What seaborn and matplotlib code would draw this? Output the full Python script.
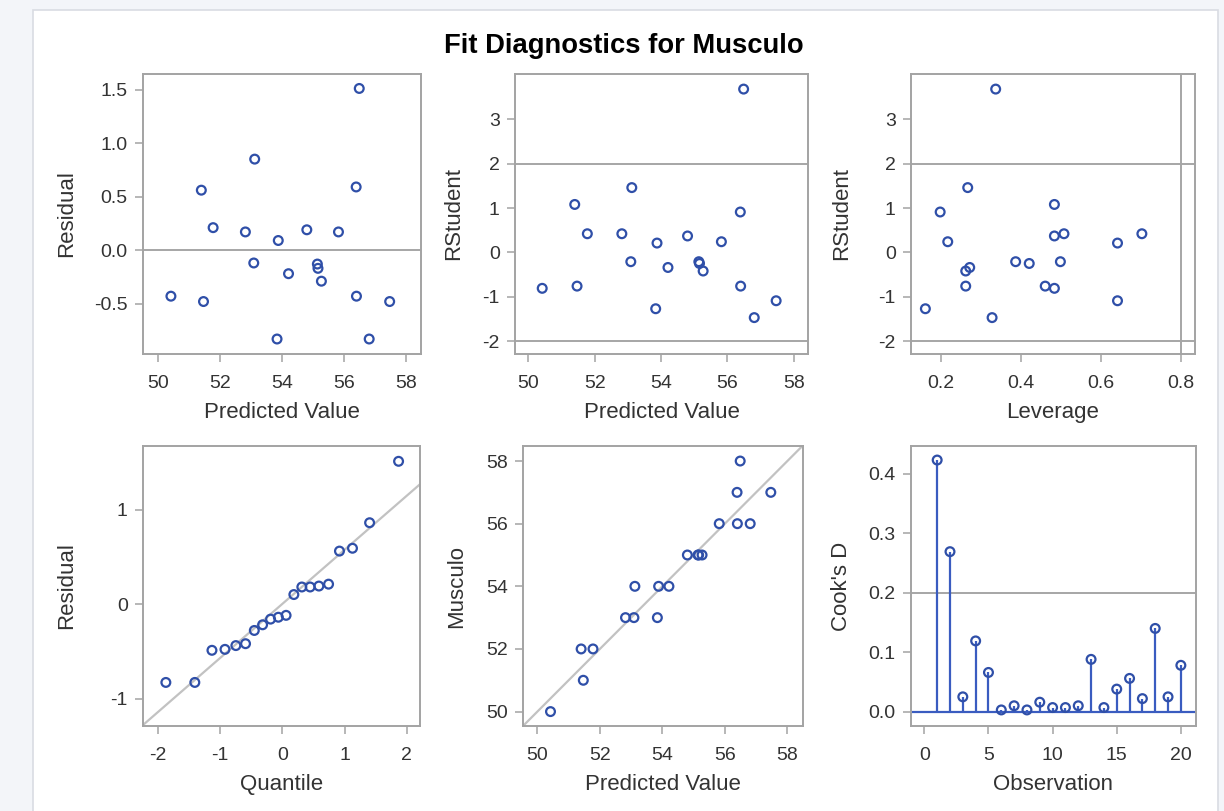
import numpy as np
import pandas as pd
import matplotlib
matplotlib.use("Agg")
import matplotlib.pyplot as plt
from matplotlib.patches import Rectangle
import seaborn as sns

# ---------------- data ----------------
predicted = [50.42, 51.47, 51.40, 51.78, 52.82, 53.12, 53.09, 53.88, 53.84, 54.21,
             54.80, 55.14, 55.16, 55.27, 55.82, 56.39, 56.49, 56.40, 56.81, 57.47]
residual = [-0.43, -0.48, 0.56, 0.21, 0.17, 0.85, -0.12, 0.09, -0.83, -0.22,
            0.19, -0.13, -0.17, -0.29, 0.17, 0.59, 1.51, -0.43, -0.83, -0.48]
musculo = [50, 51, 52, 52, 53, 54, 53, 54, 53, 54,
           55, 55, 55, 55, 56, 57, 58, 56, 56, 57]
rstudent = [-0.81, -0.76, 1.08, 0.42, 0.42, 1.46, -0.21, 0.21, -1.27, -0.34,
            0.37, -0.21, -0.25, -0.42, 0.24, 0.91, 3.68, -0.76, -1.47, -1.09]
leverage = [0.484, 0.262, 0.484, 0.508, 0.703, 0.267, 0.387, 0.642, 0.161, 0.272,
            0.484, 0.499, 0.421, 0.262, 0.217, 0.198, 0.337, 0.461, 0.328, 0.642]

qq_quantile = [-1.868, -1.403, -1.128, -0.919, -0.744, -0.589, -0.448, -0.315, -0.187, -0.062,
               0.062, 0.187, 0.315, 0.448, 0.589, 0.744, 0.919, 1.128, 1.403, 1.868]
qq_residual = [-0.83, -0.83, -0.49, -0.48, -0.44, -0.42, -0.28, -0.22, -0.16, -0.14,
               -0.12, 0.10, 0.18, 0.18, 0.19, 0.21, 0.56, 0.59, 0.86, 1.51]
qq_sigma = 0.573

observation = list(range(1, 21))
cooks_d = [0.423, 0.269, 0.025, 0.119, 0.066, 0.003, 0.010, 0.003, 0.016, 0.007,
           0.007, 0.010, 0.088, 0.007, 0.038, 0.056, 0.022, 0.140, 0.025, 0.078]

rstudent_limit = 2
leverage_limit = 0.8
cooks_limit = 0.2

# ---------------- style ----------------
sns.set_theme(style="white")
plt.rcParams['font.family'] = ['Liberation Sans', 'DejaVu Sans']
plt.rcParams['axes.unicode_minus'] = False

W, H = 1224, 811
BLUE = "#2f4fa8"
STEM = "#3a5cc0"
FRAME = "#a3a3a3"
REF = "#a6a6a6"
DIAG = "#c2c2c2"
TXT = "#333333"

fig = plt.figure(figsize=(W / 100, H / 100), dpi=100)
fig.patch.set_facecolor("#f3f5f9")
fig.patches.append(Rectangle((33 / W, -0.05), (1218 - 33) / W, 1.05 - 10 / H,
                             transform=fig.transFigure, facecolor="white",
                             edgecolor="#d9dce3", linewidth=1.2, zorder=-10))

fig.text(624 / W, 1 - 46 / H, "Fit Diagnostics for Musculo", ha="center", va="center",
         fontsize=19.7, fontweight="bold", color="black")


def make_ax(x0, x1, y0, y1):
    ax = fig.add_axes([x0 / W, 1 - y1 / H, (x1 - x0) / W, (y1 - y0) / H])
    ax.set_facecolor("white")
    for s in ax.spines.values():
        s.set_color(FRAME)
        s.set_linewidth(1.4)
    ax.tick_params(axis="both", which="both", direction="out", length=6, width=1.1,
                   color=FRAME, labelsize=14, labelcolor=TXT,
                   bottom=True, left=True)
    ax.tick_params(axis="x", pad=9)
    ax.tick_params(axis="y", pad=5)
    return ax


def label(ax, xl, yl, ylab_px, x0, x1):
    ax.set_xlabel(xl, fontsize=16, color=TXT, labelpad=7.5)
    ax.set_ylabel(yl, fontsize=16, color=TXT)
    ax.yaxis.set_label_coords((ylab_px - x0) / (x1 - x0), 0.5)


def points(ax, x, y):
    sns.scatterplot(x=x, y=y, ax=ax, marker="o", s=40, facecolor="none",
                    edgecolor=BLUE, linewidth=1.6, zorder=3, legend=False)


# Panel 1: Residual vs Predicted
ax1 = make_ax(143, 421, 74, 354)
ax1.axhline(0, color=REF, lw=1.4, zorder=1)
points(ax1, predicted, residual)
ax1.set_xlim(49.52, 58.48)
ax1.set_ylim(-0.97, 1.645)
ax1.set_xticks([50, 52, 54, 56, 58])
ax1.set_yticks([-0.5, 0.0, 0.5, 1.0, 1.5])
ax1.set_yticklabels(["-0.5", "0.0", "0.5", "1.0", "1.5"])
label(ax1, "Predicted Value", "Residual", 77, 143, 421)

# Panel 2: RStudent vs Predicted
ax2 = make_ax(515, 808, 74, 354)
for v in (rstudent_limit, -rstudent_limit):
    ax2.axhline(v, color=REF, lw=1.4, zorder=1)
points(ax2, predicted, rstudent)
ax2.set_xlim(49.6, 58.43)
ax2.set_ylim(-2.29, 4.02)
ax2.set_xticks([50, 52, 54, 56, 58])
ax2.set_yticks([-2, -1, 0, 1, 2, 3])
label(ax2, "Predicted Value", "RStudent", 464, 515, 808)

# Panel 3: RStudent vs Leverage
ax3 = make_ax(911, 1195, 74, 354)
for v in (rstudent_limit, -rstudent_limit):
    ax3.axhline(v, color=REF, lw=1.4, zorder=1)
ax3.axvline(leverage_limit, color=REF, lw=1.4, zorder=1)
points(ax3, leverage, rstudent)
ax3.set_xlim(0.125, 0.836)
ax3.set_ylim(-2.29, 4.02)
ax3.set_xticks([0.2, 0.4, 0.6, 0.8])
ax3.set_xticklabels(["0.2", "0.4", "0.6", "0.8"])
ax3.set_yticks([-2, -1, 0, 1, 2, 3])
label(ax3, "Leverage", "RStudent", 852, 911, 1195)

# Panel 4: Q-Q plot of residuals
ax4 = make_ax(143, 420, 446, 726)
xl4 = (-2.235, 2.212)
ax4.plot(xl4, [qq_sigma * xl4[0], qq_sigma * xl4[1]], color=DIAG, lw=1.6, zorder=1)
points(ax4, qq_quantile, qq_residual)
ax4.set_xlim(*xl4)
ax4.set_ylim(-1.291, 1.672)
ax4.set_xticks([-2, -1, 0, 1, 2])
ax4.set_yticks([-1, 0, 1])
label(ax4, "Quantile", "Residual", 77, 143, 420)

# Panel 5: Musculo vs Predicted
ax5 = make_ax(523, 803, 446, 726)
ax5.plot([49.54, 58.5], [49.54, 58.5], color=DIAG, lw=1.6, zorder=1)
points(ax5, predicted, musculo)
ax5.set_xlim(49.54, 58.5)
ax5.set_ylim(49.54, 58.48)
ax5.set_xticks([50, 52, 54, 56, 58])
ax5.set_yticks([50, 52, 54, 56, 58])
label(ax5, "Predicted Value", "Musculo", 467, 523, 803)

# Panel 6: Cook's D
ax6 = make_ax(911, 1196, 446, 726)
ax6.axhline(cooks_limit, color=REF, lw=1.4, zorder=1)
ax6.axhline(0, color=STEM, lw=1.6, zorder=2)
ax6.vlines(observation, 0, cooks_d, color=STEM, lw=1.6, zorder=2)
points(ax6, observation, cooks_d)
ax6.set_xlim(-1.04, 21.18)
ax6.set_ylim(-0.024, 0.4466)
ax6.set_xticks([0, 5, 10, 15, 20])
ax6.set_yticks([0.0, 0.1, 0.2, 0.3, 0.4])
ax6.set_yticklabels(["0.0", "0.1", "0.2", "0.3", "0.4"])
label(ax6, "Observation", "Cook's D", 852, 911, 1196)

fig.savefig("out.png", dpi=100, facecolor=fig.get_facecolor())
